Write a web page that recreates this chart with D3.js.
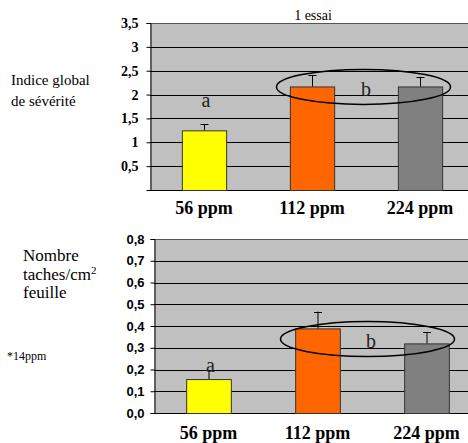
<!DOCTYPE html>
<html><head><meta charset="utf-8">
<script src="https://cdn.jsdelivr.net/npm/d3@7"></script>
<style>body{margin:0;background:#fff}</style>
</head><body>
<svg id="c" width="468" height="443"></svg>
<script>
const categories = ["56 ppm", "112 ppm", "224 ppm"];
const colors = ["#ffff00", "#ff6600", "#808080"];
const severite = [1.25, 2.17, 2.17];
const severiteErr = [0.13, 0.24, 0.20];
const severiteTicks = [0.5, 1, 1.5, 2, 2.5, 3, 3.5];
const severiteTickLabels = ["0,5", "1", "1,5", "2", "2,5", "3", "3,5"];
const taches = [0.156, 0.389, 0.32];
const tachesErr = [0.04, 0.077, 0.052];
const tachesTicks = [0, 0.1, 0.2, 0.3, 0.4, 0.5, 0.6, 0.7, 0.8];
const tachesTickLabels = ["0,0", "0,1", "0,2", "0,3", "0,4", "0,5", "0,6", "0,7", "0,8"];

const SERIF = '"Liberation Serif", serif';
const SANS = '"Liberation Sans", "DejaVu Sans"';
const svg = d3.select("#c");

function panel(o) {
  const g = svg.append("g");
  const x = d3.scaleBand().domain(categories).range([o.left, o.left + o.w]).paddingInner(0.59).paddingOuter(0.295);
  const y = d3.scaleLinear().domain([0, o.max]).range([o.bottom, o.top]);
  g.append("rect").attr("x", o.left).attr("y", o.top).attr("width", o.w).attr("height", o.bottom - o.top).attr("fill", "#c0c0c0");
  g.selectAll(".grid").data(o.ticks.filter(t => t > 0)).join("line")
    .attr("x1", o.left).attr("x2", o.left + o.w)
    .attr("y1", d => Math.round(y(d)) + 0.5).attr("y2", d => Math.round(y(d)) + 0.5)
    .attr("stroke", d => d === o.max ? "#555" : "#000").attr("stroke-width", 1);
  const ax = d3.axisLeft(y).tickValues(o.ticks).tickFormat((d, i) => o.labels[i]).tickSize(o.tick).tickPadding(o.pad);
  const axg = g.append("g").attr("transform", `translate(${o.left + 0.5},0)`).call(ax);
  axg.select(".domain").attr("stroke", "#000");
  axg.selectAll(".tick line").attr("stroke", "#000");
  axg.selectAll(".tick text").style("font-family", o.tickFont).style("font-weight", "bold").style("font-size", o.tickSize + "px").attr("fill", "#000");
  g.append("line").attr("x1", o.left).attr("x2", o.left + o.w).attr("y1", Math.round(y(0)) + 0.5).attr("y2", Math.round(y(0)) + 0.5).attr("stroke", "#000");
  g.selectAll(".bar").data(o.values).join("rect")
    .attr("x", (d, i) => x(categories[i]) + 0.5).attr("y", d => y(d) + 0.5)
    .attr("width", x.bandwidth()).attr("height", d => y(0) - y(d))
    .attr("fill", (d, i) => colors[i]).attr("stroke", "#333").attr("stroke-width", 1);
  const eb = g.selectAll(".err").data(o.values).join("g");
  eb.append("line").attr("x1", (d, i) => x(categories[i]) + x.bandwidth() / 2 + 0.5).attr("x2", (d, i) => x(categories[i]) + x.bandwidth() / 2 + 0.5)
    .attr("y1", d => y(d)).attr("y2", (d, i) => y(d + o.err[i])).attr("stroke", "#000");
  eb.append("line").attr("x1", (d, i) => x(categories[i]) + x.bandwidth() / 2 - 3.5).attr("x2", (d, i) => x(categories[i]) + x.bandwidth() / 2 + 4.5)
    .attr("y1", (d, i) => Math.round(y(d + o.err[i])) + 0.5).attr("y2", (d, i) => Math.round(y(d + o.err[i])) + 0.5).attr("stroke", "#000");
  g.selectAll(".cat").data(categories).join("text")
    .attr("x", d => x(d) + x.bandwidth() / 2).attr("y", o.catY).attr("text-anchor", "middle")
    .style("font-family", SERIF).style("font-weight", "bold").style("font-size", "18px").text(d => d);
  g.append("text").attr("x", x(categories[0]) + x.bandwidth() / 2 + 2).attr("y", o.aY).attr("text-anchor", "middle")
    .style("font-family", SERIF).style("font-size", "20px").attr("fill", "#222").text("a");
  const cx = (x(categories[1]) + x(categories[2]) + x.bandwidth()) / 2;
  g.append("ellipse").attr("cx", cx + o.ecx).attr("cy", y(o.ecy)).attr("rx", 87).attr("ry", 17.5)
    .attr("fill", "none").attr("stroke", "#000").attr("stroke-width", 1.5);
  g.append("text").attr("x", cx + o.bdx).attr("y", o.bY).attr("text-anchor", "middle")
    .style("font-family", SERIF).style("font-size", "20px").attr("fill", "#222").text("b");
  return {x, y};
}

panel({left: 150, w: 324, top: 23, bottom: 190, max: 3.5, ticks: severiteTicks, labels: severiteTickLabels,
  values: severite, err: severiteErr, tick: 4, pad: 8, tickFont: SERIF, tickSize: 14, catY: 214,
  aY: 107, bY: 96, ecx: -2.5, ecy: 2.16, bdx: 0});
panel({left: 154, w: 327, top: 239, bottom: 413, max: 0.8, ticks: tachesTicks, labels: tachesTickLabels,
  values: taches, err: tachesErr, tick: 4, pad: 6, tickFont: SANS, tickSize: 13, catY: 439,
  aY: 372, bY: 348, ecx: -4.5, ecy: 0.34, bdx: -1});

svg.append("text").attr("x", 313).attr("y", 20).attr("text-anchor", "middle").style("font-family", SERIF).style("font-size", "14px").text("1 essai");
function side(x, y, t, s) {
  return svg.append("text").attr("x", x).attr("y", y).style("font-family", SERIF).style("font-size", s + "px").text(t);
}
side(11, 85, "Indice global", 15);
side(11, 106, "de sévérité", 15);
side(23, 261, "Nombre", 17);
side(23, 280, "taches/cm", 17).append("tspan").style("font-size", "11px").attr("dy", -6).text("2");
side(23, 298, "feuille", 17);
svg.append("text").attr("x", 7).attr("y", 360).style("font-family", SERIF).style("font-size", "12px").text("*14ppm");
</script>
</body></html>
